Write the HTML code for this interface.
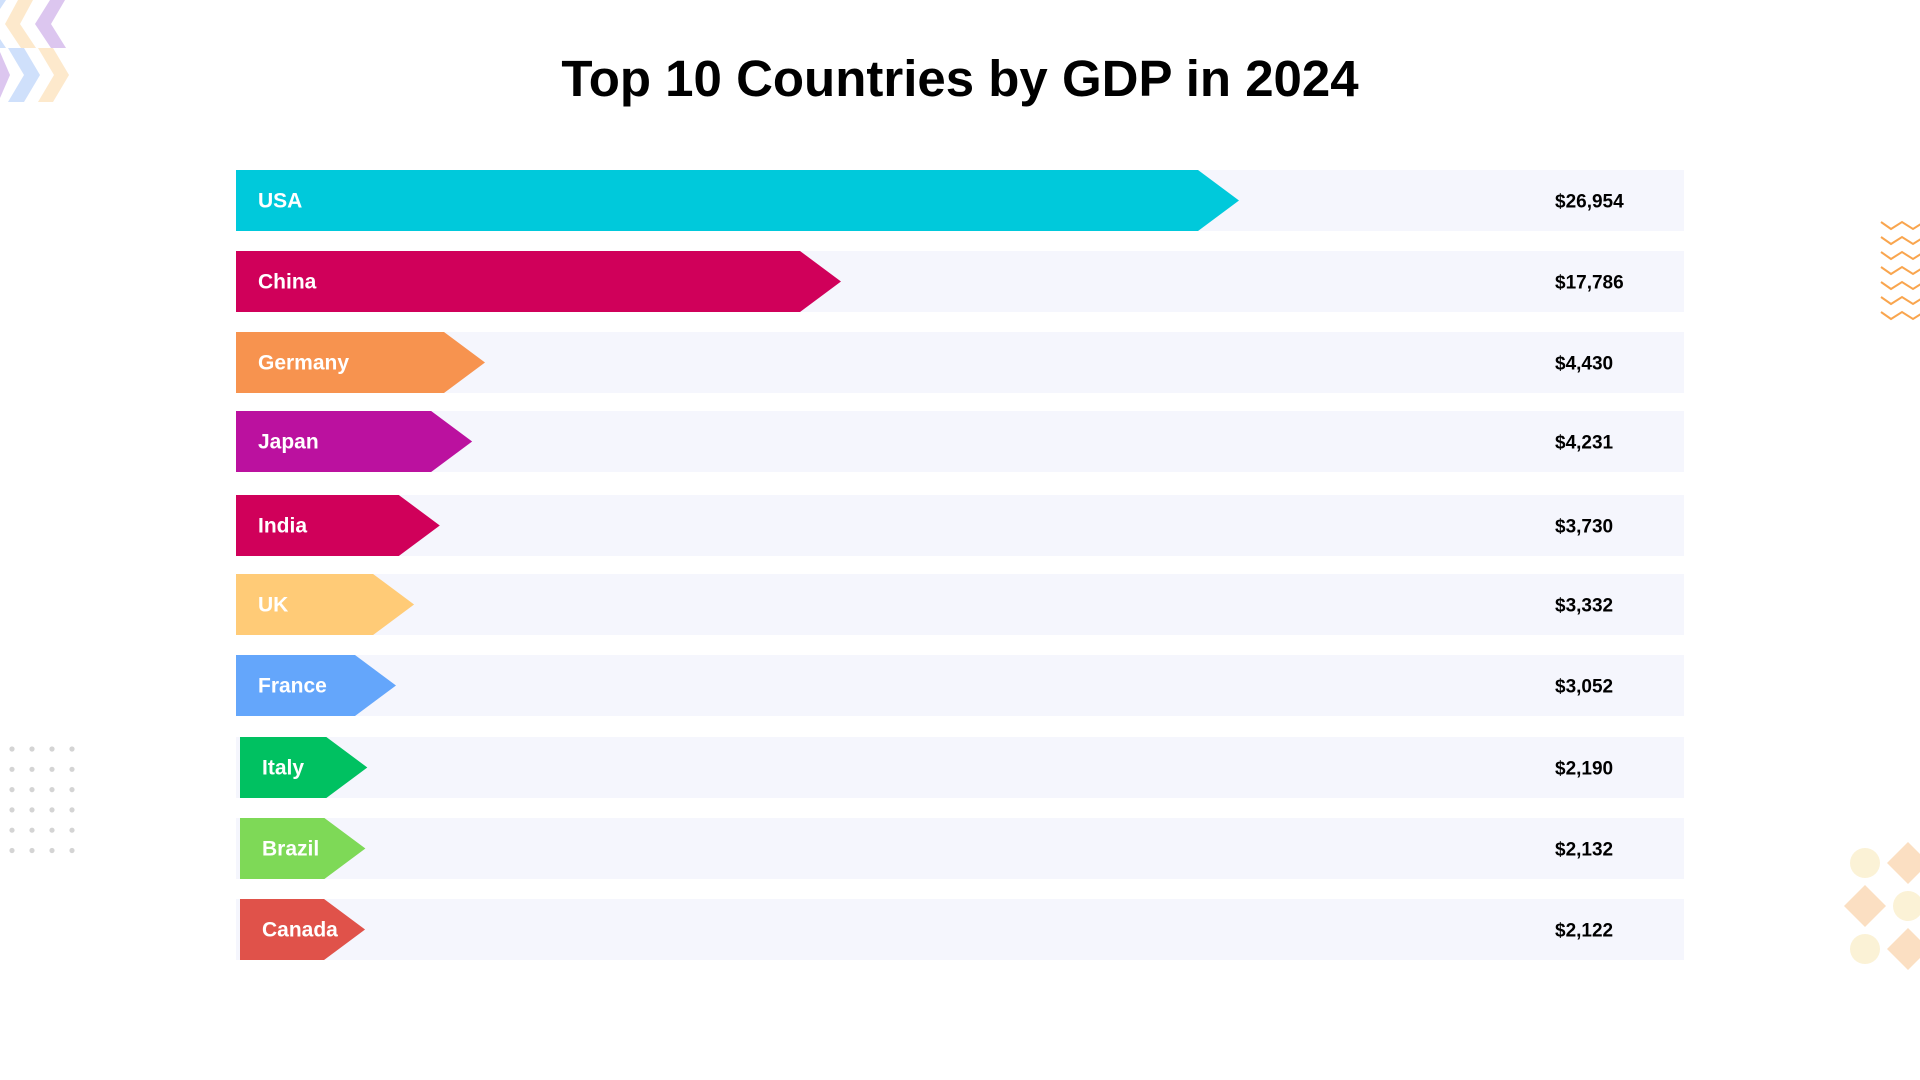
<!DOCTYPE html>
<html><head><meta charset="utf-8"><style>
html,body{margin:0;padding:0;background:#fff;width:1920px;height:1080px;overflow:hidden}
svg{display:block;font-family:"Liberation Sans",sans-serif}
</style></head><body>
<svg id="chart" width="1920" height="1080" viewBox="0 0 1920 1080">
  <g>
    <polygon points="0,0 6,0 -10,24 6,48 0,48" fill="#cfe0fb"/>
    <polygon points="18,0 33,0 20,24 36,48 21,48 5,24" fill="#fde9cc"/>
    <polygon points="50,0 65,0 51,24 66,48 51,48 35,24" fill="#dcc6ef"/>
    <polygon points="0,52 10,75 0,98" fill="#dcc6ef"/>
    <polygon points="8,48 24,48 40,75 24,102 8,102 24,75" fill="#cfe0fb"/>
    <polygon points="38,48 53,48 69,75 53,102 38,102 54,75" fill="#fde9cc"/>
  </g>
  <g id="dots"></g>
  <g fill="none" stroke="#f9a54e" stroke-width="2">
    <polyline points="1881,222 1891,229 1902,222 1913,229 1924,222"/>
    <polyline points="1881,237 1891,244 1902,237 1913,244 1924,237"/>
    <polyline points="1881,252 1891,259 1902,252 1913,259 1924,252"/>
    <polyline points="1881,267 1891,274 1902,267 1913,274 1924,267"/>
    <polyline points="1881,282 1891,289 1902,282 1913,289 1924,282"/>
    <polyline points="1881,297 1891,304 1902,297 1913,304 1924,297"/>
    <polyline points="1881,312 1891,319 1902,312 1913,319 1924,312"/>
  </g>
  <g>
    <circle cx="1865" cy="863" r="15" fill="#fbf2d6"/>
    <circle cx="1908" cy="906" r="15" fill="#fbf2d6"/>
    <circle cx="1865" cy="949" r="15" fill="#fbf2d6"/>
    <polygon points="1908,842 1929,863 1908,884 1887,863" fill="#fbdfc2"/>
    <polygon points="1865,885 1886,906 1865,927 1844,906" fill="#fbdfc2"/>
    <polygon points="1908,928 1929,949 1908,970 1887,949" fill="#fbdfc2"/>
  </g>
  <text x="960" y="96" text-anchor="middle" font-size="51" font-weight="bold" fill="#000">Top 10 Countries by GDP in 2024</text>
  <g id="bars"></g>
</svg>
<script>
const countries = ["USA","China","Germany","Japan","India","UK","France","Italy","Brazil","Canada"];
const gdpValues = [26954,17786,4430,4231,3730,3332,3052,2190,2132,2122];
const valueLabels = ["$26,954","$17,786","$4,430","$4,231","$3,730","$3,332","$3,052","$2,190","$2,132","$2,122"];
const barColors = ["#00c9db","#d0005a","#f7934f","#bb119f","#d0005a","#ffcb77","#64a6fb","#00c161","#7ed957","#e0524a"];

const NS = "http://www.w3.org/2000/svg";
// piecewise-linear value scale (as in the reference graphic)
const dom = [0, 2000, 3052, 4430, 17786, 26954];
const rng = [60, 125, 160, 249, 605, 1003];
function xScale(v){
  for (let i=1;i<dom.length;i++){
    if (v<=dom[i] || i===dom.length-1){
      const t=(v-dom[i-1])/(dom[i]-dom[i-1]);
      return rng[i-1]+t*(rng[i]-rng[i-1]);
    }
  }
}
const rowTops=[170,251,332,411,495,574,655,737,818,899];
function yScale(i){ return rowTops[i]!==undefined ? rowTops[i] : 170+i*81; }
const x0=236, trackW=1448, rowH=61, tip=41;
const g=document.getElementById('bars');
countries.forEach((c,i)=>{
  const y=yScale(i);
  const start = i>=7 ? x0+4 : x0;
  const track=document.createElementNS(NS,'rect');
  track.setAttribute('x',x0);track.setAttribute('y',y);track.setAttribute('width',trackW);track.setAttribute('height',rowH);track.setAttribute('fill','#f5f6fd');
  
  
  g.appendChild(track);
  const end=x0+xScale(gdpValues[i]);
  const bar=document.createElementNS(NS,'polygon');
  bar.setAttribute('points',`${start},${y} ${end-tip},${y} ${end},${y+rowH/2} ${end-tip},${y+rowH} ${start},${y+rowH}`);
  bar.setAttribute('fill',barColors[i]);
  
  
  g.appendChild(bar);
  const lab=document.createElementNS(NS,'text');
  lab.setAttribute('x',start+22);lab.setAttribute('y',y+rowH/2+7);lab.setAttribute('font-size','21');lab.setAttribute('font-weight','bold');lab.setAttribute('fill','#fff');
  lab.textContent=c;
  
  
  g.appendChild(lab);
  const val=document.createElementNS(NS,'text');
  val.setAttribute('x',1555);val.setAttribute('y',y+rowH/2+7);val.setAttribute('font-size','19');val.setAttribute('font-weight','bold');val.setAttribute('fill','#000');
  val.textContent=valueLabels[i];
  
  
  g.appendChild(val);
});
const dg=document.getElementById('dots');
for(let r=0;r<6;r++)for(let c=0;c<4;c++){
  const d=document.createElementNS(NS,'circle');
  d.setAttribute('cx',12+c*20);d.setAttribute('cy',749+r*20.3);d.setAttribute('r',2.6);d.setAttribute('fill','#d4d4d4');
  
  
  dg.appendChild(d);
}
</script>
</body></html>
